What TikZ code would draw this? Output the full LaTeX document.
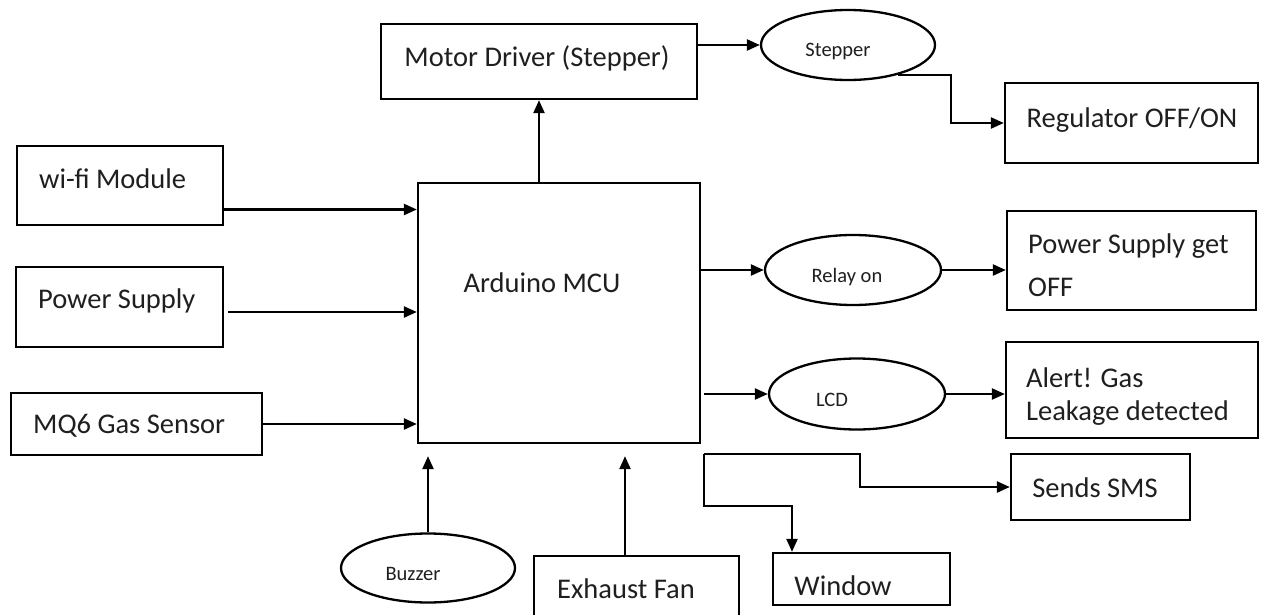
\documentclass[tikz,border=0pt]{standalone}
\usepackage{fontspec}
\setmainfont{Carlito}
\usetikzlibrary{arrows.meta,shapes.geometric}
\begin{document}
\begin{tikzpicture}[x=1pt,y=-1pt,line width=2.3pt,
  box/.style={draw, rectangle, inner sep=0pt},
  oval/.style={draw, ellipse, inner sep=0pt},
  big/.style={font=\fontsize{28.5pt}{34pt}\selectfont, inner sep=0pt, text=black!88},
  small/.style={font=\fontsize{20.5pt}{24pt}\selectfont, inner sep=0pt, text=black!88},
  arr/.style={-{Triangle[length=13pt,width=11pt]}}]
\clip (0,0) rectangle (1261,615);
\fill[white] (0,0) rectangle (1261,615);
% boxes
\node[box, minimum width=316pt, minimum height=75pt] (motor) at (539,61.5) {};
\node[big, anchor=base] (motort) at (537,67) {Motor Driver (Stepper)};
\node[box, minimum width=253pt, minimum height=80pt] (reg) at (1131.5,123) {};
\node[big, anchor=base] (regt) at (1132,128) {Regulator OFF/ON};
\node[box, minimum width=206pt, minimum height=79pt] (wifi) at (120,185.5) {};
\node[big, anchor=base west] (wifit) at (38,188) {wi-fi Module};
\node[box, minimum width=207pt, minimum height=80pt] (psu) at (119.5,307) {};
\node[big, anchor=base west] (psut) at (37,308) {Power Supply};
\node[box, minimum width=251pt, minimum height=62pt] (mq6) at (136.5,424) {};
\node[big, anchor=base west] (mq6t) at (32,433) {MQ6 Gas Sensor};
\node[box, minimum width=282pt, minimum height=260pt] (mcu) at (559,313) {};
\node[big, anchor=base] (mcut) at (542,292) {Arduino MCU};
\node[box, minimum width=249pt, minimum height=99pt] (psoff) at (1131.5,260.5) {};
\node[big, anchor=base west] (psofft1) at (1027,253) {Power Supply get};
\node[big, anchor=base west] (psofft2) at (1027,296) {OFF};
\node[box, minimum width=252pt, minimum height=96pt] (alert) at (1132,390) {};
\node[big, anchor=base west] (alertt1) at (1025,387) {Alert! Gas};
\node[big, anchor=base west] (alertt2) at (1025,420) {Leakage detected};
\node[box, minimum width=179pt, minimum height=66pt] (sms) at (1100.5,487) {};
\node[big, anchor=base] (smst) at (1095,497) {Sends SMS};
\node[box, minimum width=177pt, minimum height=52pt] (window) at (861.5,579) {};
\node[big, anchor=base] (windowt) at (843,595) {Window};
\node[box, minimum width=205pt, minimum height=80pt] (exhaust) at (636.5,596) {};
\node[big, anchor=base] (exhaustt) at (626,598) {Exhaust Fan};
% ellipses
\node[oval, minimum width=174pt, minimum height=70pt] (stepper) at (848,45) {};
\node[small, anchor=base] (steppert) at (838,57) {Stepper};
\node[oval, minimum width=176pt, minimum height=70pt] (relay) at (853,270) {};
\node[small, anchor=base] (relayt) at (847,282) {Relay on};
\node[oval, minimum width=176pt, minimum height=71pt] (lcd) at (857,394) {};
\node[small, anchor=base] (lcdt) at (832,406) {LCD};
\node[oval, minimum width=174pt, minimum height=69pt] (buzzer) at (428,568) {};
\node[small, anchor=base] (buzzert) at (413,580) {Buzzer};
% connectors
\draw[arr] (motor.east |- stepper.west) -- (stepper.west);
\draw[arr] (stepper.-31) -- ++(53,0) |- (reg.west);
\draw[arr] ([yshift=-24pt]wifi.east) coordinate (w1) -- (w1 -| mcu.west);
\draw[arr] ([shift={(4pt,-5pt)}]psu.east) coordinate (p1) -- (p1 -| mcu.west);
\draw[arr] (mq6.east) -- (mq6.east -| mcu.west);
\draw[arr] (motor.south |- mcu.north) -- (motor.south);
\draw[arr] (mcu.east |- relay.west) -- (relay.west);
\draw[arr] (relay.east) -- (relay.east -| psoff.west);
\draw[arr] ([xshift=3pt]mcu.east |- lcd.west) -- (lcd.west);
\draw[arr] (lcd.east) -- (lcd.east -| alert.west);
\coordinate (j) at ([shift={(3pt,-10pt)}]mcu.south east);
\draw[arr] (j) -- ++(156,0) |- (sms.west);
\draw[arr] (j) -- ++(0,52) -| ([xshift=-69.5pt]window.north);
\draw[arr, shorten >=12pt] (buzzer.north) -- (buzzer.north |- mcu.south);
\draw[arr, shorten >=12pt] ([xshift=-11.5pt]exhaust.north) coordinate (e1) -- (e1 |- mcu.south);
\end{tikzpicture}
\end{document}
